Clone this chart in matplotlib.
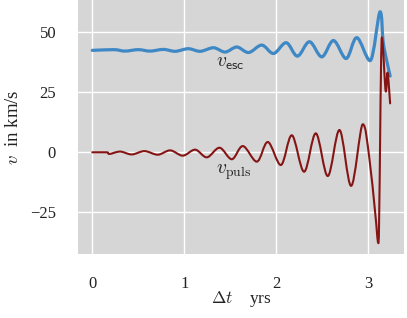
import numpy as np
import matplotlib
matplotlib.use("Agg")
import matplotlib.pyplot as plt
from matplotlib.path import Path
from matplotlib.patches import PathPatch

plt.rcParams['font.family'] = ['Liberation Serif', 'DejaVu Serif']
plt.rcParams['mathtext.fontset'] = 'cm'

# v_esc: extrema (years, km/s)
t_esc = [0.0, 0.229, 0.355, 0.500, 0.627, 0.772, 0.899, 1.043, 1.170, 1.315, 1.442,
         1.569, 1.696, 1.840, 1.967, 2.105, 2.228, 2.359, 2.493, 2.620, 2.757,
         2.873, 3.018, 3.127, 3.160, 3.200, 3.236]
v_esc = [42.5, 42.8, 42.2, 42.8, 42.2, 42.9, 42.1, 43.2, 42.1, 43.6, 41.8,
         43.9, 41.6, 44.7, 41.2, 45.7, 40.1, 46.1, 39.8, 46.6, 39.1,
         47.8, 38.2, 58.6, 46.0, 38.0, 31.8]

# v_puls: extrema
t_puls = [0.0, 0.156, 0.185, 0.301, 0.428, 0.566, 0.710, 0.845, 0.982, 1.116, 1.243,
          1.381, 1.515, 1.635, 1.787, 1.906, 2.048, 2.167, 2.301, 2.428, 2.558,
          2.685, 2.812, 2.939, 3.008, 3.074, 3.109, 3.146, 3.189, 3.207, 3.236]
v_puls = [0.0, 0.0, -0.7, 0.3, -0.9, 0.5, -1.0, 0.8, -1.4, 1.1, -2.1,
          1.9, -2.9, 2.6, -3.9, 4.3, -5.3, 7.1, -8.1, 7.9, -9.9,
          9.3, -14.0, 11.7, -1.8, -25.4, -37.9, 47.9, 25.3, 33.2, 20.4]

xticks = [0, 1, 2, 3]
yticks = [-25, 0, 25, 50]


def smooth_path(x, y):
    """Smooth curve through the read points (Catmull-Rom tangents, flat at extrema)."""
    P = np.column_stack([x, y]).astype(float)
    n = len(P)
    T = np.zeros_like(P)
    for i in range(n):
        p0 = P[i - 1] if i > 0 else P[i]
        p2 = P[i + 1] if i < n - 1 else P[i]
        T[i] = (p2 - p0) / 2.0
        if 0 < i < n - 1:
            a = P[i, 1] - P[i - 1, 1]
            b = P[i + 1, 1] - P[i, 1]
            if a * b <= 0:
                T[i, 1] = 0.0
    verts = [P[0]]
    codes = [Path.MOVETO]
    for i in range(n - 1):
        verts += [P[i] + T[i] / 3.0, P[i + 1] - T[i + 1] / 3.0, P[i + 1]]
        codes += [Path.CURVE4] * 3
    return Path(verts, codes)


fig = plt.figure(figsize=(4.07, 3.18), dpi=100)
ax = fig.add_axes([0.1924, 0.2013, 0.801, 0.7987])
ax.set_facecolor('#d6d6d6')
for s in ax.spines.values():
    s.set_visible(False)
ax.grid(True, color='white', linewidth=1.0)
ax.set_axisbelow(True)

ax.add_patch(PathPatch(smooth_path(t_esc, v_esc), facecolor='none',
                       edgecolor='#3f88c6', linewidth=2.3, capstyle='round',
                       joinstyle='round', zorder=3))
ax.add_patch(PathPatch(smooth_path(t_puls, v_puls), facecolor='none',
                       edgecolor='#851515', linewidth=1.5, capstyle='round',
                       joinstyle='round', zorder=4))

ax.set_xlim(-0.152, 3.39)
ax.set_ylim(-42.4, 63.5)
ax.set_xticks(xticks)
ax.set_yticks(yticks)
ax.set_xticklabels([str(v) for v in xticks])
ax.set_yticklabels([str(v).replace('-', '\u2212') for v in yticks])
ax.tick_params(length=0, pad=16, labelsize=12, colors='#222222')

ax.text(1.34, 37.0, r'$v_{\mathsf{esc}}$', fontsize=14, va='center', ha='left', color='#222222')
ax.text(1.34, -8.5, r'$v_{\mathrm{puls}}$', fontsize=14, va='center', ha='left', color='#222222')

ax.set_xlabel(r'$\Delta t$    yrs', fontsize=12.5, labelpad=-2, color='#222222')
ax.set_ylabel(r'$v$  in km/s', fontsize=13.5, labelpad=6, color='#222222')

fig.savefig('out.png', dpi=100)
